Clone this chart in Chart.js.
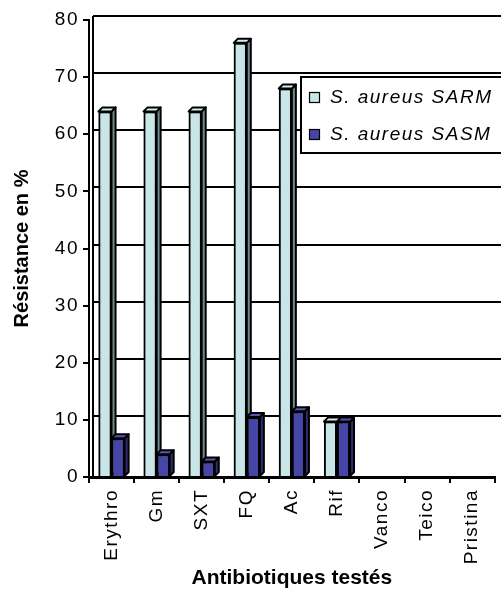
<!DOCTYPE html>
<html>
<head>
<meta charset="utf-8">
<script src="https://cdn.jsdelivr.net/npm/chart.js"></script>
<style>
  body { margin: 0; background: #fff; }
  canvas { display: block; }
</style>
</head>
<body>
<canvas id="myChart" width="501" height="592"></canvas>
<script>
// data
const categories = ['Erythro', 'Gm', 'SXT', 'FQ', 'Ac', 'Rif', 'Vanco', 'Teico', 'Pristina'];
const seriesNames = ['S. aureus SARM', 'S. aureus SASM'];
const sarm = [64, 64, 64, 76, 68, 9.7, 0, 0, 0];
const sasm = [6.8, 4, 2.7, 10.5, 11.5, 9.7, 0, 0, 0];
const yMin = 0, yMax = 80, yStep = 10;

const frontColors = ['#c8e6e8', '#4646a8'];
const topColors = ['#d4ecee', '#5656b4'];
const sideColors = ['#6e8c8c', '#2c2c74'];
const depth = 4;
const FONT = '"Liberation Sans", Arial, sans-serif';

// letter spacing like the old excel export (titles stay tight)
const spacing = {
  id: 'spacing',
  beforeLayout(chart) { chart.ctx.letterSpacing = '1.5px'; },
  beforeDraw(chart) {
    chart.ctx.letterSpacing = '1.5px';
    Object.values(chart.scales).forEach(s => {
      if (s._tightTitle) return;
      const orig = s.drawTitle;
      s.drawTitle = function () {
        const c = this.ctx;
        const prev = c.letterSpacing;
        c.letterSpacing = '0px';
        orig.call(this);
        c.letterSpacing = prev;
      };
      s._tightTitle = true;
    });
  }
};

// back wall of the 3d plot: gridlines pushed back by depth
const backWall = {
  id: 'backWall',
  beforeDatasetsDraw(chart) {
    const ctx = chart.ctx;
    const y = chart.scales.y;
    const a = chart.chartArea;
    ctx.save();
    ctx.strokeStyle = '#000';
    ctx.lineWidth = 2;
    y.ticks.forEach(t => {
      if (t.value === 0) return;
      const py = Math.round(y.getPixelForValue(t.value) - depth);
      ctx.beginPath();
      ctx.moveTo(a.left + depth, py);
      ctx.lineTo(chart.width, py);
      ctx.stroke();
    });
    ctx.beginPath();
    ctx.moveTo(a.left + depth, y.getPixelForValue(yMax) - depth);
    ctx.lineTo(a.left + depth, a.bottom);
    ctx.stroke();
    ctx.restore();
  }
};

// side + top faces, then the front face again so the order is right
const bars3d = {
  id: 'bars3d',
  afterDatasetsDraw(chart) {
    const ctx = chart.ctx;
    const metas = [chart.getDatasetMeta(0), chart.getDatasetMeta(1)];
    for (let i = 0; i < categories.length; i++) {
      metas.forEach((meta, k) => {
        const bar = meta.data[i];
        if (!bar || !chart.data.datasets[k].data[i]) return;
        const p = bar.getProps(['x', 'y', 'base', 'width'], true);
        const l = p.x - p.width / 2, r = p.x + p.width / 2;
        ctx.save();
        ctx.lineWidth = 2;
        ctx.strokeStyle = '#000';
        ctx.lineJoin = 'round';
        ctx.beginPath();
        ctx.moveTo(r, p.y);
        ctx.lineTo(r + depth, p.y - depth);
        ctx.lineTo(r + depth, p.base - depth);
        ctx.lineTo(r, p.base);
        ctx.closePath();
        ctx.fillStyle = sideColors[k];
        ctx.fill();
        ctx.stroke();
        ctx.beginPath();
        ctx.moveTo(l, p.y);
        ctx.lineTo(l + depth, p.y - depth);
        ctx.lineTo(r + depth, p.y - depth);
        ctx.lineTo(r, p.y);
        ctx.closePath();
        ctx.fillStyle = topColors[k];
        ctx.fill();
        ctx.stroke();
        ctx.restore();
        bar.draw(ctx);
      });
    }
  }
};

// boxed legend sitting on the plot, running off the right edge
const boxLegend = {
  id: 'boxLegend',
  afterDraw(chart) {
    const ctx = chart.ctx;
    const bx = 301, by = 77, bw = 230, bh = 76;
    ctx.save();
    ctx.fillStyle = '#fff';
    ctx.fillRect(bx, by, bw, bh);
    ctx.strokeStyle = '#000';
    ctx.lineWidth = 2;
    ctx.strokeRect(bx, by, bw, bh);
    ctx.font = 'italic 19px ' + FONT;
    ctx.textBaseline = 'middle';
    chart.data.datasets.forEach((ds, k) => {
      const cy = by + 20 + k * 37;
      ctx.fillStyle = frontColors[k];
      ctx.fillRect(309, cy - 5, 11, 11);
      ctx.lineWidth = 1.2;
      ctx.strokeRect(309.5, cy - 4.5, 10, 10);
      ctx.fillStyle = '#000';
      ctx.fillText(ds.label, 330, cy + 1);
    });
    ctx.restore();
  }
};

const config = {
  type: 'bar',
  data: {
    labels: categories,
    datasets: [
      { label: seriesNames[0], data: sarm, backgroundColor: frontColors[0] },
      { label: seriesNames[1], data: sasm, backgroundColor: frontColors[1] }
    ]
  },
  options: {
    responsive: false,
    animation: false,
    layout: { padding: { top: 20, right: 0, left: 0, bottom: 0 } },
    datasets: {
      bar: {
        borderColor: '#000',
        borderWidth: 2,
        categoryPercentage: 0.58,
        barPercentage: 1
      }
    },
    plugins: {
      legend: { display: false },
      tooltip: { enabled: false }
    },
    scales: {
      x: {
        afterFit(scale) { scale.height = 115; },
        grid: { drawOnChartArea: false, drawTicks: true, tickLength: 6, color: '#000', lineWidth: 2 },
        border: { display: true, color: '#000', width: 3 },
        ticks: { color: '#000', font: { family: FONT, size: 19 }, maxRotation: 90, minRotation: 90, padding: 6, autoSkip: false },
        title: { display: true, text: 'Antibiotiques testés', color: '#000', font: { family: FONT, size: 21, weight: 'bold' }, padding: { top: 0, bottom: 1 } }
      },
      y: {
        min: yMin,
        max: yMax,
        afterFit(scale) { scale.width = 89; },
        grid: { drawOnChartArea: false, drawTicks: true, tickLength: 6, color: '#000', lineWidth: 2 },
        border: { display: true, color: '#000', width: 2 },
        ticks: { stepSize: yStep, color: '#000', font: { family: FONT, size: 19 }, padding: 4 },
        title: { display: true, text: 'Résistance en %', color: '#000', font: { family: FONT, size: 20, weight: 'bold' }, padding: { top: 10, bottom: 4 } }
      }
    }
  },
  plugins: [spacing, backWall, bars3d, boxLegend]
};

const myChart = new Chart(document.getElementById('myChart'), config);
</script>
</body>
</html>
